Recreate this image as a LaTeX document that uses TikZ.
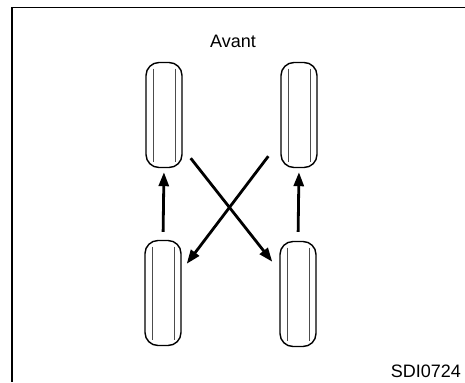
\documentclass[tikz,border=0pt]{standalone}
\usepackage{fontspec}
\setmainfont{Liberation Sans}
\usetikzlibrary{arrows.meta}

\begin{document}
\begin{tikzpicture}[x=1bp, y=-1bp, >={Triangle[length=14bp,width=10bp]},
  tire/.style={draw, line width=1.4bp, rounded corners=13bp, minimum width=36bp, minimum height=105bp, inner sep=0pt,
    path picture={
      \draw[line width=0.6bp, black!70] ([xshift=7bp,yshift=-6bp]path picture bounding box.north west) -- ([xshift=7bp,yshift=6bp]path picture bounding box.south west);
      \draw[line width=0.6bp, black!70] ([xshift=-7bp,yshift=-6bp]path picture bounding box.north east) -- ([xshift=-7bp,yshift=6bp]path picture bounding box.south east);}},
  mv/.style={->, line width=2.8bp},
  lbl/.style={font=\fontsize{18bp}{20bp}\selectfont, inner sep=0pt}]
  \useasboundingbox (0,0) rectangle (465,382);
  \draw[line width=1.5bp] (465,7.5) -- (12,7.5) -- (12,382);
  \node[lbl] (avant) at (233,41.5) {Avant};
  \node[tire] (fl) at (164,115) {};
  \node[tire] (fr) at (299,115) {};
  \node[tire] (rl) at (163,293) {};
  \node[tire] (rr) at (298,294) {};
  \draw[mv, shorten <=8bp, shorten >=4bp] (rl.north) -- (fl.south);
  \draw[mv, shorten <=9bp, shorten >=4bp] (rr.north) -- (fr.south);
  \draw[mv] ([xshift=8bp,yshift=10bp]fl.south east) -- ([xshift=-7bp,yshift=-21bp]rr.north west);
  \draw[mv] ([xshift=-12bp,yshift=12bp]fr.south west) -- ([xshift=5bp,yshift=-24bp]rl.north east);
  \node[lbl, anchor=base east] (ref) at (461,377) {SDI0724};
\end{tikzpicture}
\end{document}
